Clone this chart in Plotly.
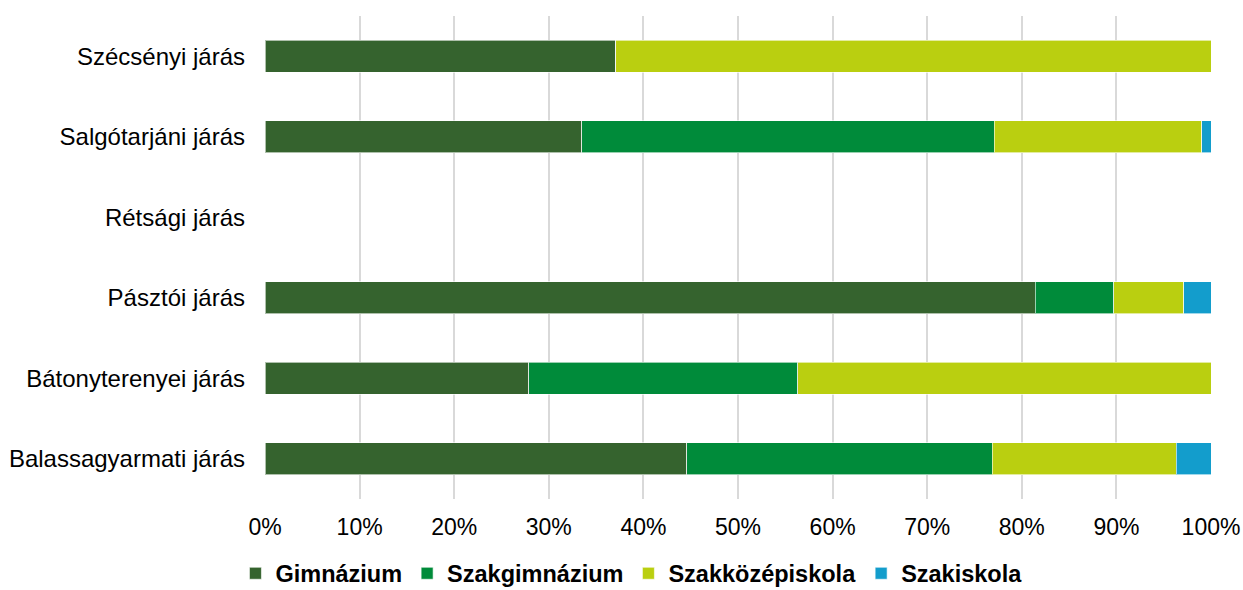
import plotly.graph_objects as go

categories = ["Balassagyarmati járás", "Bátonyterenyei járás", "Pásztói járás",
              "Rétsági járás", "Salgótarjáni járás", "Szécsényi járás"]
series_names = ["Gimnázium", "Szakgimnázium", "Szakközépiskola", "Szakiskola"]
gimnazium = [44.6, 27.9, 81.4, 0, 33.5, 37.1]
szakgimnazium = [32.3, 28.4, 8.3, 0, 43.6, 0]
szakkozepiskola = [19.4, 43.7, 7.4, 0, 21.9, 62.9]
szakiskola = [3.7, 0, 2.9, 0, 1.0, 0]
colors = ["#35632e", "#008b3a", "#bacf10", "#139dcc"]
x_ticks = [0, 10, 20, 30, 40, 50, 60, 70, 80, 90, 100]
x_tick_labels = [f"{v}%" for v in x_ticks]

FONT = "Liberation Sans, Arial, sans-serif"

fig = go.Figure()
for name, vals, col in zip(series_names,
                           [gimnazium, szakgimnazium, szakkozepiskola, szakiskola],
                           colors):
    fig.add_trace(go.Bar(
        y=categories, x=vals, name=name, orientation="h",
        marker=dict(color=col, line=dict(color="rgba(255,255,255,0.6)", width=1)),
    ))

fig.update_layout(
    barmode="stack",
    bargap=0.6,
    width=1243, height=590,
    margin=dict(l=265, r=32, t=16, b=91),
    plot_bgcolor="white", paper_bgcolor="white",
    font=dict(family=FONT, size=23, color="#000000"),
    showlegend=True,
    legend=dict(orientation="h", xref="container", yref="container",
                x=0.508, xanchor="center", y=0.028, yanchor="middle",
                font=dict(size=23.5, family=FONT, weight="bold"),
                itemwidth=30, traceorder="normal"),
)
fig.update_xaxes(range=[0, 100], tickvals=x_ticks, ticktext=x_tick_labels,
                 showgrid=True, gridcolor="#d9d9d9", gridwidth=2,
                 zeroline=False, showline=False, ticks="", ticklabelstandoff=12,
                 tickfont=dict(size=23), automargin=False)
fig.update_yaxes(categoryorder="array", categoryarray=categories,
                 range=[-0.5, 5.5], showgrid=False, showline=False, ticks="",
                 ticklabelstandoff=19, tickfont=dict(size=24), automargin=False)

fig.write_html("out.html", config={"displayModeBar": False},
               post_script="document.body.style.margin='0';")
